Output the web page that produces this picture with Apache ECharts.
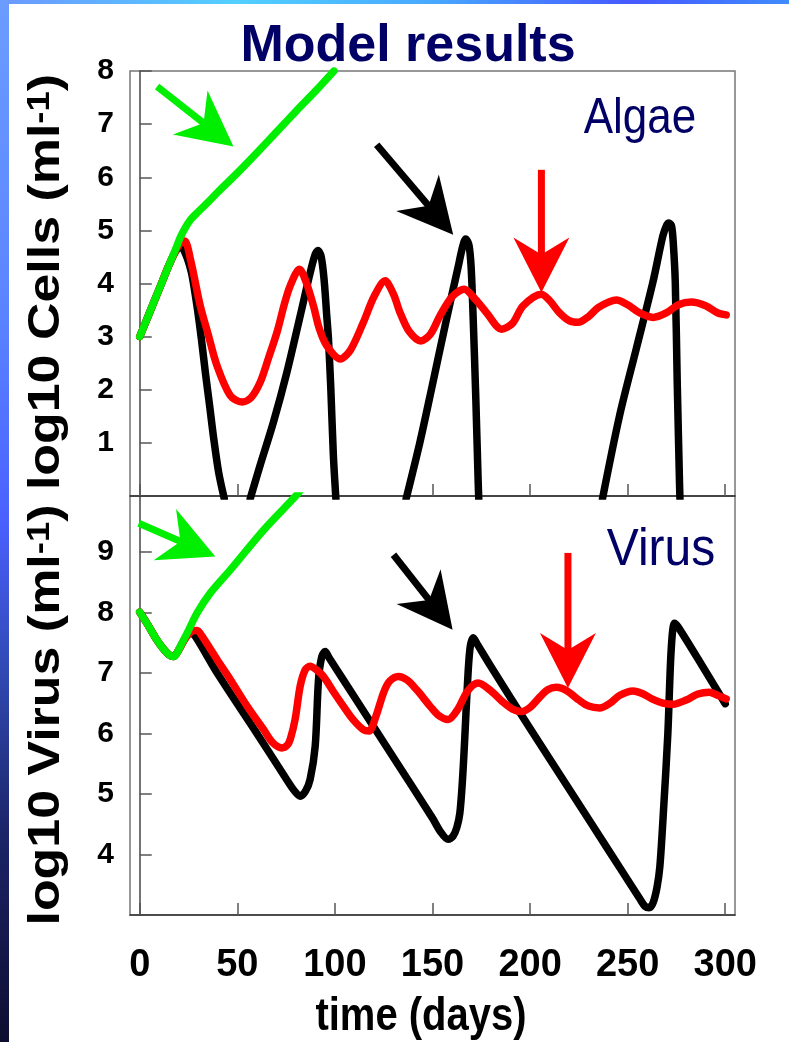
<!DOCTYPE html>
<html><head><meta charset="utf-8">
<script src="https://cdn.jsdelivr.net/npm/echarts@6/dist/echarts.min.js"></script>
<style>html,body{margin:0;padding:0;background:#fff}#c{width:789px;height:1042px}</style>
</head><body><div id="c"></div>
<script>
// ---- data ----
const tickDays = [0, 50, 100, 150, 200, 250, 300];
const algaeTicks = [1, 2, 3, 4, 5, 6, 7, 8];
const virusTicks = [4, 5, 6, 7, 8, 9];

const algaeGreen = [[0,3],[5,3.45],[10,3.9],[15,4.35],[18.3,4.64],[20.8,4.87],[23,5.03],[26,5.2],[29.4,5.33],[35,5.53],[40,5.72],[50,6.08],[60,6.46],[70,6.85],[80,7.24],[90,7.62],[99.5,8.0]];
const algaeBlack = [[0,3],[5,3.45],[10,3.9],[15,4.35],[18.3,4.6],[20,4.67],[21.5,4.68],[23.5,4.55],[25,4.4],[26.8,4.15],[29.3,3.58],[31.6,2.95],[33.6,2.33],[35.8,1.7],[37.9,1.08],[40.4,0.45],[43.3,-0.05],[50,null],
  [56.6,-0.05],[61.7,0.58],[68.5,1.39],[75.4,2.33],[82.2,3.39],[87.3,4.2],[89.9,4.55],[91.3,4.62],[93,4.5],[94.5,4.05],[95.8,3.4],[96.7,2.95],[97.9,2.02],[99.2,0.77],[100.5,-0.05],[120,null],
  [136.5,-0.05],[143.6,1.02],[150,2.1],[157,3.3],[163,4.29],[165.5,4.7],[167,4.84],[168.7,4.72],[169.8,4.3],[170.8,3.39],[172.2,1.83],[173.4,0.27],[173.7,-0.05],[200,null],
  [237.1,-0.05],[245.9,1.52],[254.4,2.77],[262.9,4.02],[268,4.89],[270,5.1],[271.2,5.14],[272.5,5.08],[273.4,4.75],[274.4,4.02],[275.4,2.14],[276.6,0.2],[276.8,-0.05]];
const algaeRed = [[0,3],[5,3.45],[10,3.9],[15,4.35],[20,4.72],[23,4.8],[26,4.45],[31,3.58],[35,3.05],[39.6,2.45],[46.4,1.89],[52.4,1.77],[57,1.85],[61.7,2.14],[66,2.6],[70.3,3.08],[74,3.6],[77,3.95],[81.8,4.27],[85.5,4.0],[89,3.58],[92,3.15],[95.8,2.83],[102.7,2.58],[108,2.75],[114.6,3.27],[120,3.75],[125.7,4.05],[130,3.8],[133.3,3.46],[138,3.1],[144,2.92],[149,3.05],[153.8,3.39],[160,3.75],[166.2,3.89],[172,3.7],[177.7,3.45],[185.4,3.14],[191,3.25],[196.4,3.58],[205.8,3.8],[210,3.68],[215,3.45],[220,3.3],[224.6,3.27],[230,3.38],[235,3.55],[244.2,3.69],[250,3.6],[256,3.45],[263,3.36],[270,3.45],[276,3.6],[282.6,3.65],[290,3.58],[296,3.45],[300.5,3.41]];

const virusGreen = [[0,8.0],[4,7.8],[8,7.58],[12,7.4],[15,7.3],[17.4,7.27],[21,7.45],[25.1,7.71],[29.4,7.99],[36.2,8.32],[46.4,8.7],[63.5,9.36],[80.5,9.94],[83,10.05]];
const virusBlack = [[0,8.0],[4,7.8],[8,7.58],[12,7.4],[15,7.3],[17.4,7.27],[20,7.38],[23,7.56],[26,7.66],[28.5,7.6],[40,6.98],[60,6.0],[75,5.25],[79,5.06],[82.2,4.96],[85,5.05],[87.3,5.24],[89.9,5.79],[91.6,6.89],[93.3,7.27],[95,7.35],[97,7.25],[110,6.6],[130,5.6],[150,4.6],[154,4.38],[158,4.25],[160.5,4.3],[162.5,4.45],[164,4.68],[165.3,5.2],[166.5,5.9],[167.8,6.75],[169.2,7.4],[170.9,7.58],[173,7.47],[180,7.1],[200,6.08],[220,5.08],[240,4.08],[252,3.48],[256,3.28],[259,3.14],[261,3.12],[263,3.2],[265,3.45],[266.5,3.8],[268.5,4.8],[270.6,6.0],[272.3,7.38],[274,7.82],[276,7.75],[288.5,7.1],[300,6.49]];
const virusRed = [[0,8.0],[4,7.8],[8,7.58],[12,7.4],[15,7.3],[17.4,7.27],[20,7.38],[24,7.6],[27,7.69],[29.4,7.7],[32,7.6],[40,7.2],[46.4,6.89],[55,6.45],[63.5,6.06],[68,5.85],[72.8,5.76],[75.5,5.8],[77.1,5.9],[79.6,6.23],[82.2,6.78],[84.8,7.05],[87.3,7.11],[90.5,7.05],[94.1,6.94],[99,6.7],[104.3,6.45],[109,6.24],[114.6,6.06],[117.5,6.04],[121,6.28],[124.9,6.67],[128,6.86],[132.5,6.94],[137,6.88],[141.9,6.72],[145,6.6],[148.7,6.45],[153,6.3],[158,6.23],[163,6.4],[168,6.7],[173.4,6.83],[180,6.7],[186,6.52],[191,6.4],[195.6,6.36],[200,6.43],[205,6.6],[209,6.72],[213.5,6.76],[219,6.7],[225,6.55],[230,6.45],[235.7,6.42],[241,6.5],[246,6.63],[252.7,6.7],[258,6.65],[263,6.56],[268,6.5],[273.2,6.48],[280,6.55],[286,6.65],[291.9,6.68],[296,6.63],[300.5,6.57]];

// annotation arrows: [tail, tip] in data units
const algaeGreenArrow = [[8.9, 7.71], [48.0, 6.58]];
const algaeBlackArrow = [[121.4, 6.61], [160.6, 4.92]];
const algaeRedArrow = [[205.8, 6.14], [205.8, 3.83]];
const virusGreenArrow = [[-0.5, 9.47], [38.7, 8.92]];
const virusBlackArrow = [[130.0, 8.95], [160.3, 7.71]];
const virusRedArrow = [[219.4, 8.98], [219.4, 6.75]];

// ---- chart ----
const chart = echarts.init(document.getElementById('c'), null, {renderer: 'canvas'});
const FONT = '"Liberation Sans", Arial, Helvetica, sans-serif';
const NAVY = '#000066';
const LW = 7.5;

function lineSeries(data, color, xi, yi, z) {
  return {
    type: 'line', data: data, xAxisIndex: xi, yAxisIndex: yi,
    showSymbol: false, symbol: 'none', smooth: 0.3, connectNulls: false, z: z,
    lineStyle: {color: color, width: LW, cap: 'round', join: 'round'},
    emphasis: {disabled: true}
  };
}

const gridL = 130, gridW = 605;
const xCommon = (gi, showLabels) => ({
  type: 'value', gridIndex: gi, min: -5, max: 305,
  splitLine: {show: false},
  axisLine: {show: true, onZero: false, lineStyle: {color: '#333', width: 1.5}},
  axisTick: {show: true, inside: true, length: 12, customValues: tickDays, lineStyle: {color: '#555', width: 1.5}},
  axisLabel: {show: showLabels, customValues: tickDays, margin: 32, fontFamily: FONT, fontWeight: 'bold', fontSize: 38, color: '#000'}
});

const staticGraphics = [
  {type: 'rect', silent: true, z: -10, shape: {x: 0, y: 0, width: 789, height: 4},
   style: {fill: {type: 'linear', x: 0, y: 0, x2: 1, y2: 0, colorStops: [
     {offset: 0, color: '#6c98ff'}, {offset: 0.3, color: '#52d0ff'}, {offset: 0.55, color: '#48a8ff'},
     {offset: 0.8, color: '#4658ff'}, {offset: 1, color: '#3f8cff'}]}}},
  {type: 'rect', silent: true, z: -10, shape: {x: 0, y: 0, width: 9, height: 1042},
   style: {fill: {type: 'linear', x: 0, y: 0, x2: 0, y2: 1, colorStops: [
     {offset: 0, color: '#6c9cff'}, {offset: 0.3, color: '#5a84ff'}, {offset: 0.5, color: '#4a60ff'},
     {offset: 0.65, color: '#3048b0'}, {offset: 0.8, color: '#1c2468'}, {offset: 1, color: '#0e0e30'}]}}},
  {type: 'text', silent: true, x: 408, y: 47,
   style: {text: 'Model results', fontFamily: FONT, fontWeight: 'bold', fontSize: 52, fill: NAVY, align: 'center', verticalAlign: 'middle'}},
  {type: 'text', silent: true, x: 640, y: 119, scaleY: 1.12,
   style: {text: 'Algae', fontFamily: FONT, fontSize: 44, fill: NAVY, align: 'center', verticalAlign: 'middle'}},
  {type: 'text', silent: true, x: 661, y: 551, scaleY: 1.08,
   style: {text: 'Virus', fontFamily: FONT, fontSize: 48, fill: NAVY, align: 'center', verticalAlign: 'middle'}},
  {type: 'text', silent: true, x: 421, y: 1017, scaleY: 1.15,
   style: {text: 'time (days)', fontFamily: FONT, fontWeight: 'bold', fontSize: 40, fill: '#000', align: 'center', verticalAlign: 'middle'}},
  {type: 'text', silent: true, x: 47, y: 282, rotation: Math.PI / 2, scaleX: 1.18,
   style: {text: '{a|log10 Cells (ml}{b|-1}{a|)}', align: 'center', verticalAlign: 'middle',
     rich: {a: {fontFamily: FONT, fontWeight: 'bold', fontSize: 44, fill: '#000'},
            b: {fontFamily: FONT, fontWeight: 'bold', fontSize: 31, fill: '#000', verticalAlign: 'top'}}}},
  {type: 'text', silent: true, x: 47, y: 715, rotation: Math.PI / 2, scaleX: 1.18,
   style: {text: '{a|log10 Virus (ml}{b|-1}{a|)}', align: 'center', verticalAlign: 'middle',
     rich: {a: {fontFamily: FONT, fontWeight: 'bold', fontSize: 44, fill: '#000'},
            b: {fontFamily: FONT, fontWeight: 'bold', fontSize: 31, fill: '#000', verticalAlign: 'top'}}}}
];

const option = {
  animation: false,
  backgroundColor: '#ffffff',
  grid: [
    {left: gridL, top: 71, width: gridW, height: 425, show: true, borderColor: '#777', borderWidth: 1.5, backgroundColor: 'transparent'},
    {left: gridL, top: 496, width: gridW, height: 419, show: true, borderColor: '#777', borderWidth: 1.5, backgroundColor: 'transparent'}
  ],
  xAxis: [xCommon(0, false), xCommon(1, true)],
  yAxis: [
    {type: 'value', gridIndex: 0, min: 0, max: 8, splitLine: {show: false},
     axisLine: {show: true, lineStyle: {color: '#444', width: 1.5}},
     axisTick: {show: true, inside: true, length: 12, customValues: algaeTicks, lineStyle: {color: '#555', width: 1.5}},
     axisLabel: {customValues: algaeTicks, margin: 16, fontFamily: FONT, fontWeight: 'bold', fontSize: 30, color: '#000'}},
    {type: 'value', gridIndex: 1, min: 3, max: 9.92, splitLine: {show: false},
     axisLine: {show: true, lineStyle: {color: '#444', width: 1.5}},
     axisTick: {show: true, inside: true, length: 12, customValues: virusTicks, lineStyle: {color: '#555', width: 1.5}},
     axisLabel: {customValues: virusTicks, margin: 16, fontFamily: FONT, fontWeight: 'bold', fontSize: 30, color: '#000'}}
  ],
  series: [
    lineSeries(algaeBlack, '#000000', 0, 0, 2),
    lineSeries(algaeRed, '#ff0000', 0, 0, 3),
    lineSeries(algaeGreen, '#00ee00', 0, 0, 4),
    lineSeries(virusBlack, '#000000', 1, 1, 2),
    lineSeries(virusRed, '#ff0000', 1, 1, 3),
    lineSeries(virusGreen, '#00ee00', 1, 1, 4)
  ],
  graphic: staticGraphics
};
chart.setOption(option);

// arrows: placed through the axes' own data->pixel conversion
function arrowGraphic(pts, gi, color) {
  const a = chart.convertToPixel({gridIndex: gi}, pts[0]);
  const b = chart.convertToPixel({gridIndex: gi}, pts[1]);
  const dx = b[0] - a[0], dy = b[1] - a[1], len = Math.hypot(dx, dy);
  const ux = dx / len, uy = dy / len, nx = -uy, ny = ux;
  const HL = 55, HW = 28, NOTCH = 38;
  const back = [b[0] - ux * HL, b[1] - uy * HL];
  const w1 = [back[0] + nx * HW, back[1] + ny * HW];
  const w2 = [back[0] - nx * HW, back[1] - ny * HW];
  const notch = [b[0] - ux * NOTCH, b[1] - uy * NOTCH];
  return [
    {type: 'line', silent: true, z: 20, shape: {x1: a[0], y1: a[1], x2: notch[0] + ux * 4, y2: notch[1] + uy * 4},
     style: {stroke: color, lineWidth: 7, lineCap: 'butt'}},
    {type: 'polygon', silent: true, z: 20, shape: {points: [b, w1, notch, w2]}, style: {fill: color}}
  ];
}
const arrows = [].concat(
  arrowGraphic(algaeGreenArrow, 0, '#00ee00'),
  arrowGraphic(algaeBlackArrow, 0, '#000000'),
  arrowGraphic(algaeRedArrow, 0, '#ff0000'),
  arrowGraphic(virusGreenArrow, 1, '#00ee00'),
  arrowGraphic(virusBlackArrow, 1, '#000000'),
  arrowGraphic(virusRedArrow, 1, '#ff0000')
);
chart.setOption({graphic: staticGraphics.concat(arrows)});
</script></body></html>
